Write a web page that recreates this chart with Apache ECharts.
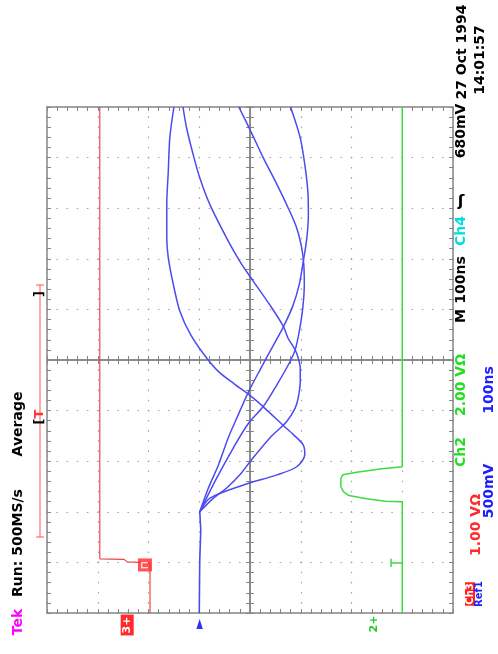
<!DOCTYPE html>
<html>
<head>
<meta charset="utf-8">
<script src="https://cdn.jsdelivr.net/npm/echarts@6/dist/echarts.min.js"></script>
<style>
html,body{margin:0;padding:0;background:#ffffff;}
#c{width:498px;height:654px;}
</style>
</head>
<body>
<div id="c"></div>
<script>
// Oscilloscope screen shown rotated 90 degrees (text reads bottom to top).
// Screen vertical axis = time in divisions (100 ns/div), 0 at the bottom.
// Screen horizontal axis = voltage in divisions, increasing to the LEFT.
// Every point is [voltage division, time division].

const ch3Trace = [[1.97,0],[1.97,0.99],[2.42,1.01],[2.48,1.06],[2.96,1.07],[2.96,10]];
const ch2Trace = [[-3,0],[-3,2.2],[-2.66,2.21],[-2.3,2.26],[-1.95,2.32],[-1.84,2.40],[-1.79,2.50],
                  [-1.79,2.66],[-1.83,2.73],[-2.1,2.78],[-2.6,2.85],[-3,2.89],[-3,10]];
const refBase  = [[1.0,0],[0.99,1.05],[0.97,1.64],[0.99,2.0]];
const refCurve1 = [[0.99,2.0],[0.79,2.27],[0.13,2.53],[-0.53,2.73],[-0.92,2.89],[-1.08,3.13],[-1.05,3.32],
                   [-0.86,3.52],[-0.64,3.72],[-0.30,4.04],[0.0,4.30],[0.30,4.52],[0.62,4.77],[0.90,5.10],
                   [1.17,5.50],[1.38,5.96],[1.51,6.49],[1.61,7.02],[1.64,7.41],[1.64,8.07],[1.61,8.73],
                   [1.58,9.39],[1.50,10]];
const refCurve2 = [[0.99,2.0],[0.72,2.27],[0.46,2.47],[0.20,2.73],[0.0,2.99],[-0.39,3.46],[-0.72,3.78],
                   [-0.89,4.05],[-0.95,4.25],[-0.99,4.58],[-0.99,4.84],[-0.95,5.04],[-0.89,5.20],
                   [-0.75,5.43],[-0.66,5.66],[-0.39,6.09],[-0.07,6.55],[0.20,6.95],[0.46,7.41],
                   [0.79,8.07],[0.99,8.60],[1.12,9.06],[1.25,9.59],[1.32,10]];
const refCurve3 = [[0.99,2.0],[0.66,2.66],[0.33,3.26],[0.03,3.75],[-0.26,4.08],[-0.53,4.51],[-0.79,4.97],
                   [-0.89,5.20],[-0.97,5.56],[-1.04,6.03],[-1.07,6.49],[-1.06,6.88],[-1.02,7.21],
                   [-0.92,7.61],[-0.75,8.01],[-0.53,8.47],[-0.26,9.00],[-0.03,9.49],[0.22,10]];
const refCurve4 = [[0.99,2.0],[0.82,2.47],[0.62,2.93],[0.43,3.46],[0.23,3.92],[0.03,4.37],[-0.20,4.81],
                   [-0.46,5.29],[-0.66,5.66],[-0.84,6.06],[-0.97,6.49],[-1.05,6.95],[-1.12,7.41],
                   [-1.15,7.87],[-1.14,8.33],[-1.08,8.86],[-0.99,9.39],[-0.80,10]];
const ch3TrigMarker = [[2.07,0.95]];
const ch2TrigBar  = [[-2.78,0.99],[-3.0,0.99]];
const ch2TrigTick = [[-2.78,0.91],[-2.78,1.07]];
// ground reference markers (voltage division) below the graticule
const groundMarks = [
  {label:'3+', v:2.42, color:'#ff2a2a', boxed:true, size:11},
  {label:'\u25BA', v:0.99, color:'#3030ff', boxed:false, size:13},
  {label:'2+', v:-2.44, color:'#22cc22', boxed:false, size:11}
];
// readouts
const txtTek = 'Tek', txtRun = 'Run: 500MS/s', txtAvg = 'Average';
const txtDate = '27 Oct 1994', txtTime = '14:01:57';
const txtCh2 = 'Ch2', txtCh2Scale = '2.00 V\u03A9', txtM = 'M', txtTB = '100ns', txtCh4 = 'Ch4', txtTrig = '680mV';
const txtCh3 = 'Ch3', txtCh3Scale = '1.00 V\u03A9', txtRef = 'Ref1', txtRefScale = '500mV', txtRefTB = '100ns';

const V_MIN = -4, V_MAX = 4, T_MIN = 0, T_MAX = 10;
const FRAME = '#858585', DOT = '#a6a6a6';
const GL = 47, GT = 107, GR = 45, GB = 41;
const GW = 498 - GL - GR, GH = 654 - GT - GB;

function xAx(position, offset, split) {
  return {
    type:'value', min:V_MIN, max:V_MAX, interval:1, inverse:true, position:position, offset:offset,
    axisLine:{show:true, onZero:false, lineStyle:{color:FRAME, width:1.5}},
    axisTick:{show:true, inside:true, length:4, lineStyle:{color:FRAME, width:1}},
    minorTick:{show:true, splitNumber:5, length:4, lineStyle:{color:FRAME, width:1}},
    axisLabel:{show:false},
    splitLine:{show:split, lineStyle:{color:DOT, width:1.2, type:[1.6, GH/50 - 1.6], dashOffset:0.8}},
    minorSplitLine:{show:false}
  };
}
function yAx(position, offset, split) {
  return {
    type:'value', min:T_MIN, max:T_MAX, interval:1, position:position, offset:offset,
    axisLine:{show:true, onZero:false, lineStyle:{color:FRAME, width:1.5}},
    axisTick:{show:true, inside:true, length:4, lineStyle:{color:FRAME, width:1}},
    minorTick:{show:true, splitNumber:5, length:4, lineStyle:{color:FRAME, width:1}},
    axisLabel:{show:false},
    splitLine:{show:split, lineStyle:{color:DOT, width:1.2, type:[1.6, GW/40 - 1.6], dashOffset:0.8}},
    minorSplitLine:{show:false}
  };
}
function trace(name, data, color, width) {
  return {name:name, type:'line', data:data, xAxisIndex:0, yAxisIndex:0, symbol:'none',
          smooth:0.3, lineStyle:{color:color, width:width}, itemStyle:{color:color},
          animation:false, clip:true, z:3};
}
function poly(name, data, color, width) {
  const s = trace(name, data, color, width); s.smooth = false; return s;
}

const BLUE = '#4b4bf0', RED = '#f04646', GREEN = '#3cdc3c';

const chart = echarts.init(document.getElementById('c'));
chart.setOption({
  animation:false,
  backgroundColor:'#ffffff',
  grid:{left:GL, top:GT, right:GR, bottom:GB, containLabel:false},
  xAxis:[xAx('bottom',0,true), xAx('top',0,false), xAx('bottom',-GH/2,false), xAx('top',-GH/2,false)],
  yAxis:[yAx('left',0,true), yAx('right',0,false), yAx('left',-GW/2,false), yAx('right',-GW/2,false)],
  series:[
    poly('Ch3', ch3Trace, RED, 1.2),
    poly('Ch2', ch2Trace, GREEN, 1.5),
    poly('Ref1 base', refBase, BLUE, 1.6),
    trace('Ref1 a', refCurve1, BLUE, 1.5),
    trace('Ref1 b', refCurve2, BLUE, 1.5),
    trace('Ref1 c', refCurve3, BLUE, 1.5),
    trace('Ref1 d', refCurve4, BLUE, 1.5),
    poly('Ch2 trig bar', ch2TrigBar, GREEN, 1.5),
    poly('Ch2 trig tick', ch2TrigTick, GREEN, 1.5),
    {name:'Ch3 marker', type:'scatter', data:ch3TrigMarker, xAxisIndex:0, yAxisIndex:0,
     symbol:'rect', symbolSize:[14,13], itemStyle:{color:'#ff2a2a'}, z:4, animation:false,
     label:{show:true, formatter:'\u2293', color:'#ffffff', fontSize:11, fontWeight:'bold',
            rotate:90, position:'inside', fontFamily:'DejaVu Sans'}}
  ]
});

function vtext(text, cx, cy, color, size, extra) {
  const st = Object.assign({text:text, fill:color, font:'bold ' + size + 'px "DejaVu Sans"',
    align:'center', verticalAlign:'middle', textAlign:'center', textVerticalAlign:'middle'}, extra || {});
  return {type:'text', x:cx, y:cy, rotation:Math.PI/2, silent:true, z:10, style:st};
}

const gfx = [];
// top readout (left column)
gfx.push(vtext(txtTek, 18, 622, '#ff00ff', 14));
gfx.push(vtext(txtRun, 18, 543, '#000000', 14));
gfx.push(vtext(txtAvg, 18, 424, '#000000', 14));
// date/time
gfx.push(vtext(txtDate, 462, 52, '#000000', 14));
gfx.push(vtext(txtTime, 480, 60, '#000000', 14));
// readout line 1
gfx.push(vtext(txtTrig, 461, 131, '#000000', 14));
gfx.push({type:'text', x:461, y:202, silent:true, z:10,
  style:{text:'\u0283', fill:'#000000', font:'bold 16px "DejaVu Sans"', align:'center', verticalAlign:'middle'}});
gfx.push(vtext(txtCh4, 461, 231, '#00dddd', 14));
gfx.push(vtext(txtTB, 461, 280, '#000000', 14));
gfx.push(vtext(txtM, 461, 316, '#000000', 14));
gfx.push(vtext(txtCh2Scale, 461, 385, '#22dd22', 14));
gfx.push(vtext(txtCh2, 461, 452, '#22dd22', 14));
// readout line 2 / 3
gfx.push(vtext(txtCh3, 470, 594, '#ffffff', 10, {backgroundColor:'#ff2020', padding:[0,1]}));
gfx.push(vtext(txtRef, 479.5, 594, '#2020ff', 10));
gfx.push(vtext(txtCh3Scale, 476, 525, '#ff2a2a', 14));
gfx.push(vtext(txtRefScale, 489, 491, '#2020ff', 14));
gfx.push(vtext(txtRefTB, 489, 390, '#2020ff', 14));

// ground markers, positioned through the voltage axis
groundMarks.forEach(function (g) {
  const px = chart.convertToPixel({xAxisIndex:0}, g.v);
  if (g.boxed) {
    gfx.push(vtext(g.label, px, 625, '#ffffff', g.size, {backgroundColor:g.color, padding:[1,2]}));
  } else {
    gfx.push(vtext(g.label, px, 624, g.color, g.size));
  }
});

// record / trigger-position bar (top of the original screen)
const barTop = 285, barBot = 537, barX = 40;
gfx.push({type:'line', silent:true, z:9, shape:{x1:barX, y1:barTop, x2:barX, y2:barBot}, style:{stroke:'#ff5555', lineWidth:1}});
gfx.push({type:'line', silent:true, z:9, shape:{x1:barX-4, y1:barTop, x2:barX+4, y2:barTop}, style:{stroke:'#ff5555', lineWidth:1}});
gfx.push({type:'line', silent:true, z:9, shape:{x1:barX-4, y1:barBot, x2:barX+4, y2:barBot}, style:{stroke:'#ff5555', lineWidth:1}});
gfx.push(vtext(']', barX, 294, '#000000', 13));
gfx.push({type:'text', x:barX, y:417, rotation:Math.PI/2, silent:true, z:10,
  style:{text:'{b|[}{r|T}', align:'center', verticalAlign:'middle',
         rich:{b:{fill:'#000000', font:'bold 13px "DejaVu Sans"'}, r:{fill:'#ff3333', font:'bold 13px "DejaVu Sans"'}}}});

chart.setOption({graphic:gfx});
</script>
</body>
</html>
